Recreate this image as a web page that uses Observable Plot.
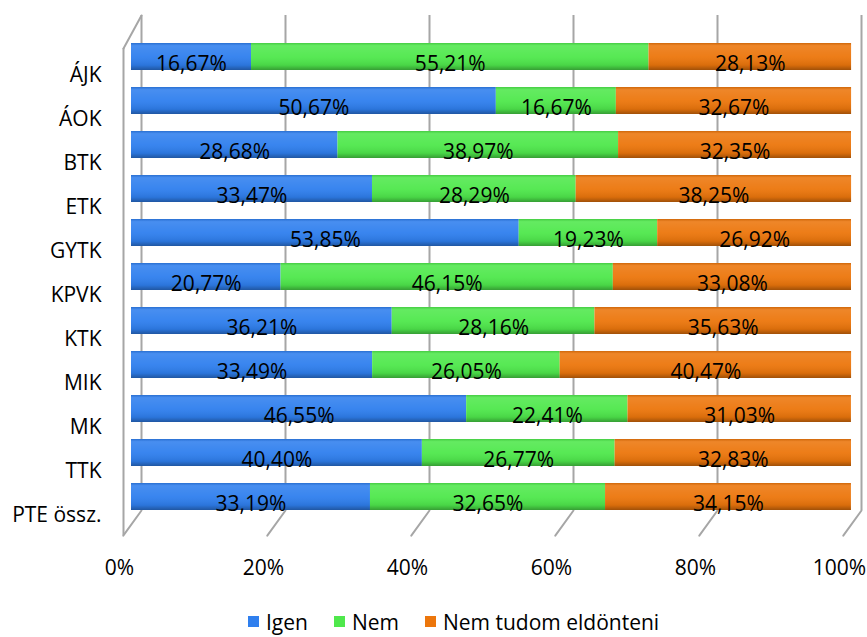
<!DOCTYPE html>
<html>
<head>
<meta charset="utf-8">
<script src="https://cdn.jsdelivr.net/npm/d3@7"></script>
<script src="https://cdn.jsdelivr.net/npm/@observablehq/plot@0.6"></script>
<style>
  body { margin: 0; background: #fff; font-family: "Open Sans", sans-serif; }
  #chart svg { display: block; }
  .leg-swatch { margin-right: 26px !important; }
  .leg-swatch > svg { margin-right: 7px !important; }
</style>
</head>
<body>
<div id="chart"></div>
<script>
const categories = ["ÁJK","ÁOK","BTK","ETK","GYTK","KPVK","KTK","MIK","MK","TTK","PTE össz."];
const series = ["Igen","Nem","Nem tudom eldönteni"];
const igen     = [16.67, 50.67, 28.68, 33.47, 53.85, 20.77, 36.21, 33.49, 46.55, 40.40, 33.19];
const nem      = [55.21, 16.67, 38.97, 28.29, 19.23, 46.15, 28.16, 26.05, 22.41, 26.77, 32.65];
const nemTudom = [28.13, 32.67, 32.35, 38.25, 26.92, 33.08, 35.63, 40.47, 31.03, 32.83, 34.15];
const colors = ["#2f7fee", "#4fe84c", "#ec760c"];
const xTicks = [0, 20, 40, 60, 80, 100];

const seriesValues = [igen, nem, nemTudom];
const data = [];
categories.forEach((cat, i) => {
  series.forEach((s, j) => data.push({cat, series: s, value: seriesValues[j][i]}));
});

const fmt = v => v.toFixed(2).replace(".", ",") + "%";
const grid = "#a6a6a6";
const line = {draw(context, l) { context.moveTo(0, 0); context.lineTo(0, -l); }};

const chart = Plot.plot({
  width: 867,
  height: 595,
  marginLeft: 131,
  marginRight: 16,
  marginTop: 24,
  marginBottom: 66,
  style: {fontFamily: "'Open Sans', sans-serif", fontSize: "21px", color: "#000", background: "#fff"},
  x: {domain: [0, 100], label: null},
  y: {domain: categories, padding: 0.39, label: null},
  color: {domain: series, range: colors},
  marks: [
    // back wall gridlines
    Plot.ruleX(xTicks, {x: d => d, stroke: grid, strokeWidth: 2, dx: 10, insetTop: -9, insetBottom: 19}),
    // floor lines going to the front
    Plot.vector(xTicks, {x: d => d, frameAnchor: "bottom", dx: 10, dy: -19, length: 31, rotate: 216, anchor: "start", shape: line, stroke: grid, strokeWidth: 2}),
    // left side wall
    Plot.ruleX([0], {x: d => d, stroke: grid, strokeWidth: 2, dx: -8, insetTop: 24, insetBottom: -6}),
    Plot.vector([0], {x: d => d, frameAnchor: "top", dx: 10, dy: -9, length: 37.6, rotate: 208.6, anchor: "start", shape: line, stroke: grid, strokeWidth: 2}),
    // bars
    Plot.barX(data, {x: "value", y: "cat", fill: "series"}),
    Plot.barX(data, {x: "value", y: "cat", fill: "url(#cyl)"}),
    Plot.text(data, Plot.stackX({x: "value", y: "cat", text: d => fmt(d.value), dy: 7, fill: "#000"})),
    Plot.axisY({tickSize: 0, tickPadding: 30, dy: 18, label: null}),
    Plot.axisX(xTicks, {tickSize: 0, tickPadding: 31, dx: -12, tickFormat: d => d + "%", label: null})
  ]
});

chart.insertAdjacentHTML("afterbegin",
  `<defs><linearGradient id="cyl" x1="0" y1="0" x2="0" y2="1">
     <stop offset="0" stop-color="#000" stop-opacity="0.12"/>
     <stop offset="0.1" stop-color="#fff" stop-opacity="0.12"/>
     <stop offset="0.5" stop-color="#fff" stop-opacity="0.05"/>
     <stop offset="0.82" stop-color="#000" stop-opacity="0.08"/>
     <stop offset="1" stop-color="#000" stop-opacity="0.32"/>
   </linearGradient></defs>`);

const legend = Plot.legend({
  color: {domain: series, range: colors},
  legend: "swatches",
  swatchSize: 11,
  className: "leg",
  style: {fontFamily: "'Open Sans', sans-serif", fontSize: "21px", color: "#000", marginLeft: "248px", marginTop: "10px"}
});

const root = document.getElementById("chart");
root.append(chart, legend);
</script>
</body>
</html>
